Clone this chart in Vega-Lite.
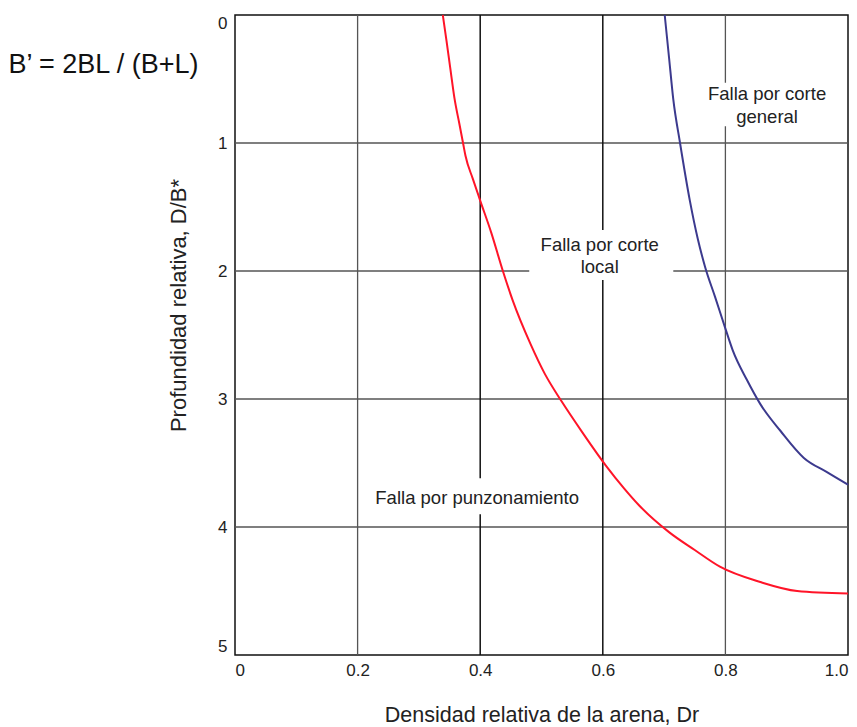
{
  "$schema": "https://vega.github.io/schema/vega-lite/v6.json",
  "width": 613,
  "height": 640,
  "autosize": {"type": "none"},
  "padding": {"left": 235, "top": 15, "right": 9, "bottom": 72},
  "background": "white",
  "config": {
    "font": "Liberation Sans",
    "view": {"stroke": "#111", "strokeWidth": 1.5},
    "text": {"font": "Liberation Sans"}
  },
  "datasets": {
    "curves": [
      {"curve": "punzonamiento", "i": 1, "dr": 0.339, "d": 0.0},
      {"curve": "punzonamiento", "i": 2, "dr": 0.345, "d": 0.2},
      {"curve": "punzonamiento", "i": 3, "dr": 0.351, "d": 0.41},
      {"curve": "punzonamiento", "i": 4, "dr": 0.358, "d": 0.65},
      {"curve": "punzonamiento", "i": 5, "dr": 0.366, "d": 0.85},
      {"curve": "punzonamiento", "i": 6, "dr": 0.372, "d": 1.0},
      {"curve": "punzonamiento", "i": 7, "dr": 0.376, "d": 1.1},
      {"curve": "punzonamiento", "i": 8, "dr": 0.388, "d": 1.28},
      {"curve": "punzonamiento", "i": 9, "dr": 0.4, "d": 1.45},
      {"curve": "punzonamiento", "i": 10, "dr": 0.418, "d": 1.7},
      {"curve": "punzonamiento", "i": 11, "dr": 0.437, "d": 2.0},
      {"curve": "punzonamiento", "i": 12, "dr": 0.453, "d": 2.23},
      {"curve": "punzonamiento", "i": 13, "dr": 0.482, "d": 2.57},
      {"curve": "punzonamiento", "i": 14, "dr": 0.505, "d": 2.8},
      {"curve": "punzonamiento", "i": 15, "dr": 0.533, "d": 3.02},
      {"curve": "punzonamiento", "i": 16, "dr": 0.568, "d": 3.27},
      {"curve": "punzonamiento", "i": 17, "dr": 0.605, "d": 3.52},
      {"curve": "punzonamiento", "i": 18, "dr": 0.635, "d": 3.7},
      {"curve": "punzonamiento", "i": 19, "dr": 0.659, "d": 3.83},
      {"curve": "punzonamiento", "i": 20, "dr": 0.708, "d": 4.04},
      {"curve": "punzonamiento", "i": 21, "dr": 0.75, "d": 4.18},
      {"curve": "punzonamiento", "i": 22, "dr": 0.791, "d": 4.31},
      {"curve": "punzonamiento", "i": 23, "dr": 0.857, "d": 4.43},
      {"curve": "punzonamiento", "i": 24, "dr": 0.917, "d": 4.5},
      {"curve": "punzonamiento", "i": 25, "dr": 1.0, "d": 4.52},
      {"curve": "general", "i": 1, "dr": 0.701, "d": 0.0},
      {"curve": "general", "i": 2, "dr": 0.708, "d": 0.33},
      {"curve": "general", "i": 3, "dr": 0.715, "d": 0.66},
      {"curve": "general", "i": 4, "dr": 0.726, "d": 1.0},
      {"curve": "general", "i": 5, "dr": 0.742, "d": 1.45},
      {"curve": "general", "i": 6, "dr": 0.755, "d": 1.75},
      {"curve": "general", "i": 7, "dr": 0.767, "d": 1.97},
      {"curve": "general", "i": 8, "dr": 0.783, "d": 2.2},
      {"curve": "general", "i": 9, "dr": 0.8, "d": 2.45},
      {"curve": "general", "i": 10, "dr": 0.812, "d": 2.62},
      {"curve": "general", "i": 11, "dr": 0.835, "d": 2.85},
      {"curve": "general", "i": 12, "dr": 0.857, "d": 3.04},
      {"curve": "general", "i": 13, "dr": 0.89, "d": 3.25},
      {"curve": "general", "i": 14, "dr": 0.928, "d": 3.46},
      {"curve": "general", "i": 15, "dr": 0.965, "d": 3.57},
      {"curve": "general", "i": 16, "dr": 1.0, "d": 3.67}
    ],
    "labels": [
      {"label": "Falla por corte", "dr": 0.868, "d": 0.617},
      {"label": "general", "dr": 0.868, "d": 0.797},
      {"label": "Falla por corte", "dr": 0.595, "d": 1.8},
      {"label": "local", "dr": 0.595, "d": 1.97},
      {"label": "Falla  por punzonamiento", "dr": 0.395, "d": 3.77}
    ],
    "gaps": [
      {"x1": 0.767, "x2": 0.97, "y1": 0.53, "y2": 0.87},
      {"x1": 0.48, "x2": 0.715, "y1": 1.68, "y2": 2.07},
      {"x1": 0.22, "x2": 0.571, "y1": 3.62, "y2": 3.9}
    ]
  },
  "layer": [
    {
      "data": {"values": [{"v": 1}, {"v": 2}, {"v": 3}, {"v": 4}]},
      "mark": {"type": "rule", "color": "#555", "strokeWidth": 1.3},
      "encoding": {
        "y": {"field": "v", "type": "quantitative", "scale": {"domain": [0, 5], "reverse": true}}
      }
    },
    {
      "data": {"values": [{"v": 0.2}, {"v": 0.8}]},
      "mark": {"type": "rule", "color": "#555", "strokeWidth": 1.3},
      "encoding": {
        "x": {"field": "v", "type": "quantitative", "scale": {"domain": [0, 1]}}
      }
    },
    {
      "data": {"values": [{"v": 0.4}, {"v": 0.6}]},
      "mark": {"type": "rule", "color": "#111", "strokeWidth": 1.5},
      "encoding": {
        "x": {"field": "v", "type": "quantitative"}
      }
    },
    {
      "data": {"name": "gaps"},
      "mark": {"type": "rect", "fill": "white"},
      "encoding": {
        "x": {"field": "x1", "type": "quantitative"},
        "x2": {"field": "x2"},
        "y": {"field": "y1", "type": "quantitative"},
        "y2": {"field": "y2"}
      }
    },
    {
      "data": {"name": "curves"},
      "mark": {"type": "line", "strokeWidth": 2, "interpolate": "monotone"},
      "encoding": {
        "x": {
          "field": "dr", "type": "quantitative",
          "scale": {"domain": [0, 1], "nice": false},
          "axis": {
            "values": [0, 0.2, 0.4, 0.6, 0.8, 1.0],
            "labelExpr": "datum.value == 0 ? '0' : format(datum.value, '.1f')",
            "grid": false, "ticks": false, "domain": false,
            "labelFontSize": 17, "labelColor": "#222", "labelPadding": 7,
            "labelFont": "Liberation Sans",
            "title": "Densidad relativa de la arena, Dr",
            "titleFontSize": 21.5, "titleFontWeight": "normal", "titleColor": "#222",
            "titleFont": "Liberation Sans", "titlePadding": 26
          }
        },
        "y": {
          "field": "d", "type": "quantitative",
          "scale": {"domain": [0, 5], "reverse": true, "nice": false},
          "axis": {
            "values": [0, 1, 2, 3, 4, 5],
            "format": "d",
            "labelFlush": true,
            "grid": false, "ticks": false, "domain": false,
            "labelFontSize": 17, "labelColor": "#222", "labelPadding": 8,
            "labelFont": "Liberation Sans",
            "title": "Profundidad relativa, D/B*",
            "titleFontSize": 22, "titleFontWeight": "normal", "titleColor": "#222",
            "titleFont": "Liberation Sans",
            "titleX": -57, "titleY": 290, "titleAlign": "center", "titleBaseline": "middle", "titleAngle": 270
          }
        },
        "color": {
          "field": "curve", "type": "nominal",
          "scale": {"domain": ["punzonamiento", "general"], "range": ["#ff1428", "#3c3a8e"]},
          "legend": null
        },
        "order": {"field": "i", "type": "quantitative"}
      }
    },
    {
      "data": {"name": "labels"},
      "mark": {"type": "text", "fontSize": 18.5, "color": "#222", "align": "center", "baseline": "middle"},
      "encoding": {
        "x": {"field": "dr", "type": "quantitative"},
        "y": {"field": "d", "type": "quantitative"},
        "text": {"field": "label"}
      }
    },
    {
      "data": {"values": [{"label": "B’ = 2BL / (B+L)", "dr": -0.2145, "d": 0.39}]},
      "mark": {"type": "text", "fontSize": 27, "color": "#111", "align": "center", "baseline": "middle"},
      "encoding": {
        "x": {"field": "dr", "type": "quantitative"},
        "y": {"field": "d", "type": "quantitative"},
        "text": {"field": "label"}
      }
    }
  ]
}
